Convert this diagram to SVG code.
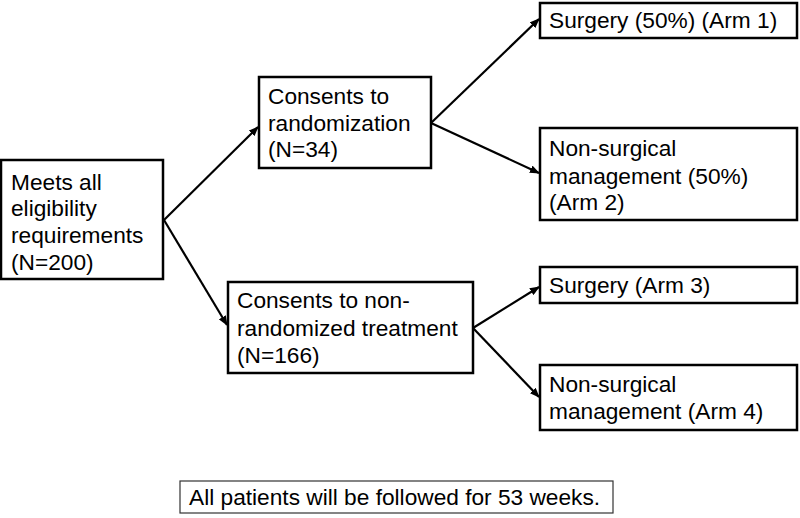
<svg xmlns="http://www.w3.org/2000/svg" width="800" height="518" viewBox="0 0 800 518">
<defs>
<marker id="ah" markerWidth="10" markerHeight="8" refX="9" refY="4" orient="auto" markerUnits="userSpaceOnUse">
<path d="M0,0 L10,4 L0,8 Z" fill="#000"/>
</marker>
<style>
.box{fill:#fff;stroke:#000;stroke-width:2.5}
.note{fill:#fff;stroke:#333;stroke-width:1.2}
text{font-family:"Liberation Sans",Arial,sans-serif;font-size:22.7px;fill:#000}
.edge{stroke:#000;stroke-width:2.2;fill:none;marker-end:url(#ah)}
</style>
</defs>
<rect width="800" height="518" fill="#fff"/>
<g id="connectors">
<line class="edge" x1="164" y1="220" x2="258" y2="127"/>
<line class="edge" x1="164" y1="220" x2="227" y2="325"/>
<line class="edge" x1="431" y1="123" x2="539" y2="19"/>
<line class="edge" x1="431" y1="123" x2="539" y2="173"/>
<line class="edge" x1="473" y1="328" x2="539" y2="287"/>
<line class="edge" x1="473" y1="328" x2="539" y2="397"/>
</g>
<g id="eligible">
<rect class="box" x="1" y="160" width="162" height="119"/>
<text x="11" y="190">Meets all</text>
<text x="11" y="216">eligibility</text>
<text x="11" y="243">requirements</text>
<text x="11" y="270">(N=200)</text>
</g>
<g id="randomized">
<rect class="box" x="259" y="77" width="172" height="91"/>
<text x="268" y="104">Consents to</text>
<text x="268" y="131">randomization</text>
<text x="268" y="157">(N=34)</text>
</g>
<g id="nonrandomized">
<rect class="box" x="228" y="282" width="245" height="91"/>
<text x="237" y="308">Consents to non-</text>
<text x="237" y="336">randomized treatment</text>
<text x="237" y="363">(N=166)</text>
</g>
<g id="arm1">
<rect class="box" x="540" y="3" width="257" height="35"/>
<text x="549" y="28">Surgery (50%) (Arm 1)</text>
</g>
<g id="arm2">
<rect class="box" x="540" y="128" width="257" height="92"/>
<text x="549" y="156">Non-surgical</text>
<text x="549" y="184">management (50%)</text>
<text x="549" y="210">(Arm 2)</text>
</g>
<g id="arm3">
<rect class="box" x="540" y="267" width="257" height="36"/>
<text x="549" y="293">Surgery (Arm 3)</text>
</g>
<g id="arm4">
<rect class="box" x="540" y="365" width="257" height="65"/>
<text x="549" y="392">Non-surgical</text>
<text x="549" y="419">management (Arm 4)</text>
</g>
<g id="followup">
<rect class="note" x="180" y="481" width="433" height="32"/>
<text x="189" y="505">All patients will be followed for 53 weeks.</text>
</g>
</svg>
